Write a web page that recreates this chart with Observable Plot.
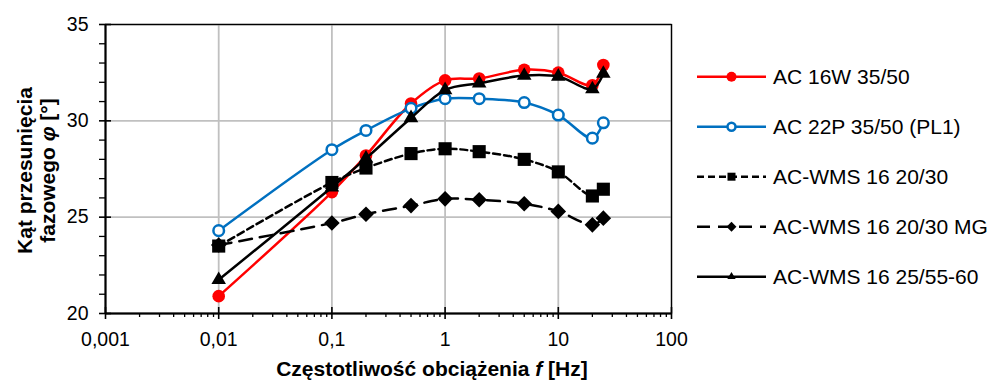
<!DOCTYPE html>
<html><head><meta charset="utf-8">
<script src="https://cdn.jsdelivr.net/npm/d3@7"></script>
<script src="https://cdn.jsdelivr.net/npm/@observablehq/plot@0.6"></script>
<style>
html,body{margin:0;padding:0;background:#fff;}
#wrap{position:relative;width:992px;height:380px;font-family:Arial,"Liberation Sans",sans-serif;}
#wrap svg{position:absolute;left:0;top:0;}
</style></head><body><div id="wrap"></div>
<script>
// ---- data ----
const freq      = [0.01, 0.1, 0.2, 0.5, 1, 2, 5, 10, 20, 25];
const ac16w     = [20.9, 26.3, 28.2, 30.9, 32.1, 32.2, 32.65, 32.5, 31.85, 32.9];
const ac22p     = [24.3, 28.5, 29.5, 30.65, 31.15, 31.15, 30.95, 30.3, 29.1, 29.9];
const wms2030   = [23.5, 26.8, 27.55, 28.3, 28.55, 28.4, 28.0, 27.35, 26.1, 26.45];
const wms2030mg = [23.55, 24.7, 25.15, 25.6, 25.95, 25.9, 25.7, 25.3, 24.6, 24.95];
const wms2555   = [21.75, 26.55, 28.05, 30.15, 31.6, 31.95, 32.35, 32.3, 31.65, 32.45];
const seriesNames = ["AC 16W 35/50", "AC 22P 35/50 (PL1)", "AC-WMS 16 20/30", "AC-WMS 16 20/30 MG", "AC-WMS 16 25/55-60"];
const xTicks = [0.001, 0.01, 0.1, 1, 10, 100];
const yTicks = [20, 25, 30, 35];
const xMinor = [];
for (let d = 0.001; d < 99; d *= 10) for (let k = 2; k <= 9; k++) xMinor.push(+(k * d).toPrecision(3));
const yMinor = d3.range(20, 36).filter(v => v % 5 !== 0);

// ---- styles ----
const styles = [
  {values: ac16w,     stroke: "#ff0000", dash: null,   symbol: "circle",   fill: "#ff0000", mstroke: "none",    r: 6.3, sw: 0,   lsym: d3.symbolCircle,   lsize: 78,  lfill: "#ff0000", lstroke: "none"},
  {values: ac22p,     stroke: "#0070c0", dash: null,   symbol: "circle",   fill: "#ffffff", mstroke: "#0070c0", r: 5.3, sw: 2.5, lsym: d3.symbolCircle,   lsize: 50,  lfill: "#ffffff", lstroke: "#0070c0"},
  {values: wms2030,   stroke: "#000",    dash: "7,4",  symbol: "square",   fill: "#000",    mstroke: "none",    r: 7.4, sw: 0,   lsym: d3.symbolSquare,   lsize: 64,  lfill: "#000", lstroke: "none"},
  {values: wms2030mg, stroke: "#000",    dash: "13,8", symbol: "diamond2", fill: "#000",    mstroke: "none",    r: 7.0, sw: 0,   lsym: d3.symbolDiamond2, lsize: 62,  lfill: "#000", lstroke: "none"},
  {values: wms2555,   stroke: "#000",    dash: null,   symbol: "triangle", fill: "#000",    mstroke: "none",    r: 5.4, sw: 0,   lsym: d3.symbolTriangle, lsize: 30,  lfill: "#000", lstroke: "none"}
];

const fmt = d => String(d).replace(".", ",");

const seriesMarks = [];
styles.forEach((s, i) => {
  const rows = freq.map((f, j) => ({f, v: s.values[j], name: seriesNames[i]}));
  seriesMarks.push(Plot.line(rows, {x: "f", y: "v", stroke: s.stroke, strokeWidth: 2.5, strokeDasharray: s.dash, curve: "catmull-rom"}));
  seriesMarks.push(Plot.dot(rows, {x: "f", y: "v", symbol: s.symbol, r: s.r, fill: s.fill, stroke: s.mstroke, strokeWidth: s.sw}));
});

const chart = Plot.plot({
  width: 992, height: 380,
  marginLeft: 105, marginRight: 321, marginTop: 24, marginBottom: 67,
  style: {fontFamily: 'Arial, "Liberation Sans", sans-serif', background: "transparent", overflow: "visible"},
  x: {type: "log", domain: [0.001, 100]},
  y: {domain: [20, 35]},
  marks: [
    Plot.gridX(xTicks, {stroke: "#c0c0c0", strokeOpacity: 1, strokeWidth: 1.8}),
    Plot.gridY(yTicks, {stroke: "#c0c0c0", strokeOpacity: 1, strokeWidth: 1.8}),
    Plot.frame({stroke: "#000", strokeWidth: 1.3}),
    Plot.ruleY([20], {stroke: "#000", strokeWidth: 2}),
    Plot.ruleX([0.001], {stroke: "#000", strokeWidth: 2}),
    // x axis: major ticks (outward + inward), minor ticks, labels
    Plot.axisX(xTicks, {tickSize: 6, tickPadding: 13, tickFormat: fmt, fontSize: 19.5, fill: "#000", stroke: "#000", strokeWidth: 1.6, label: null}),
    Plot.axisX(xTicks, {tickSize: 6, dy: -6, fill: "none", stroke: "#000", strokeWidth: 1.6, label: null}),
    Plot.axisX(xMinor, {tickSize: 4, fill: "none", stroke: "#000", strokeWidth: 1.3, label: null}),
    // y axis
    Plot.axisY(yTicks, {tickSize: 6, tickPadding: 11, tickFormat: fmt, fontSize: 19.5, fill: "#000", stroke: "#000", strokeWidth: 1.6, label: null}),
    Plot.axisY(yTicks, {tickSize: 6, dx: 6, fill: "none", stroke: "#000", strokeWidth: 1.6, label: null}),
    Plot.axisY(yMinor, {tickSize: 6, fill: "none", stroke: "#000", strokeWidth: 1.3, label: null}),
    ...seriesMarks
  ]
});
document.getElementById("wrap").appendChild(chart);

// ---- overlay: axis titles and legend ----
const ov = d3.select("#wrap").append("svg").attr("width", 992).attr("height", 380)
  .style("font-family", 'Arial, "Liberation Sans", sans-serif');

const xt = ov.append("text").attr("x", 432).attr("y", 375.5).attr("text-anchor", "middle")
  .attr("font-size", 21).attr("font-weight", "bold").attr("fill", "#000");
xt.append("tspan").text("Częstotliwość obciążenia ");
xt.append("tspan").attr("font-style", "italic").text("f");
xt.append("tspan").text(" [Hz]");

const yg = ov.append("g").attr("transform", "translate(0,170.5) rotate(-90)");
yg.append("text").attr("x", 0).attr("y", 31.7).attr("text-anchor", "middle")
  .attr("font-size", 21).attr("font-weight", "bold").attr("fill", "#000").text("Kąt przesunięcia");
const y2 = yg.append("text").attr("x", 0).attr("y", 55).attr("text-anchor", "middle")
  .attr("font-size", 21).attr("font-weight", "bold").attr("fill", "#000");
y2.append("tspan").text("fazowego ");
y2.append("tspan").attr("font-style", "italic").text("φ");
y2.append("tspan").text(" [°]");

const legY = [76.7, 126.7, 176.7, 226.7, 276.7];
styles.forEach((s, i) => {
  const g = ov.append("g").attr("transform", `translate(0,${legY[i]})`);
  g.append("line").attr("x1", 697).attr("x2", 766).attr("y1", 0).attr("y2", 0)
    .attr("stroke", s.stroke).attr("stroke-width", 2.5).attr("stroke-dasharray", s.dash);
  g.append("path").attr("transform", "translate(731.5,0)")
    .attr("d", d3.symbol(s.lsym, s.lsize)())
    .attr("fill", s.lfill).attr("stroke", s.lstroke).attr("stroke-width", 2.5);
  g.append("text").attr("x", 773).attr("y", 6.8).attr("font-size", 21).attr("fill", "#000").text(seriesNames[i]);
});
</script></body></html>
